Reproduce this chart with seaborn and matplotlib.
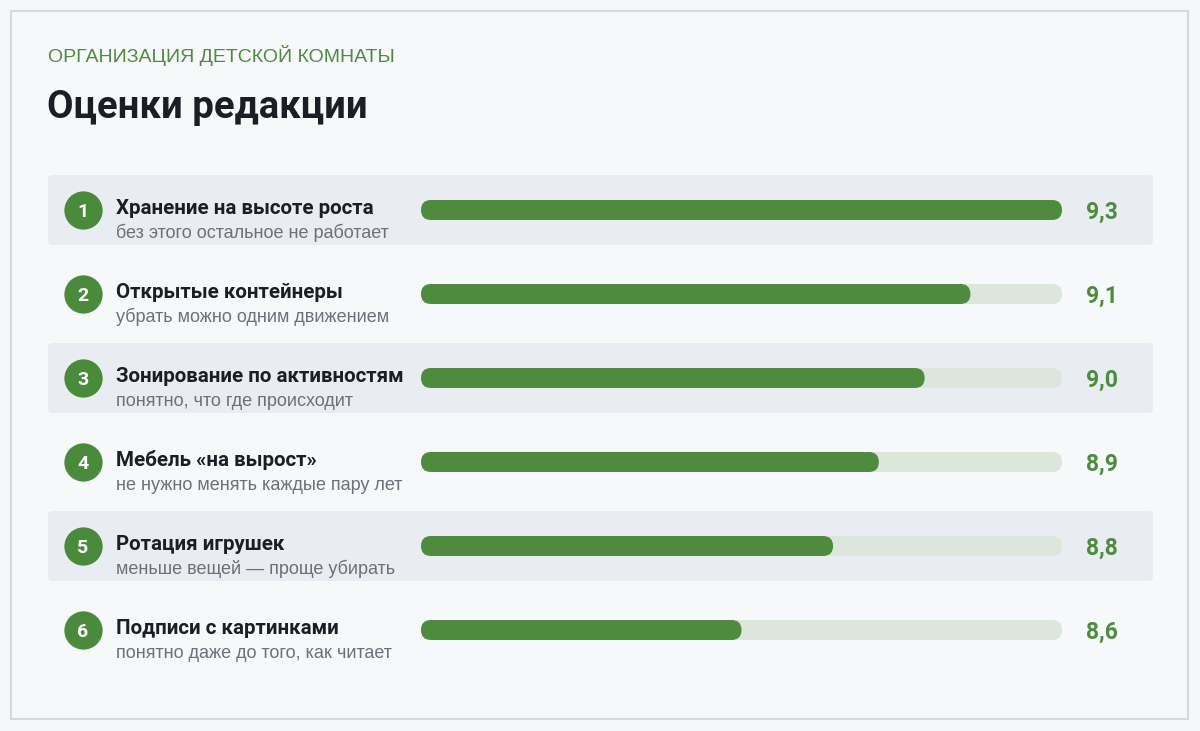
import matplotlib
matplotlib.use("Agg")
import matplotlib.pyplot as plt
import seaborn as sns
import pandas as pd
from matplotlib.patches import FancyBboxPatch, Rectangle
from matplotlib.transforms import blended_transform_factory

# ---- data ----
eyebrow = "ОРГАНИЗАЦИЯ ДЕТСКОЙ КОМНАТЫ"
title = "Оценки редакции"
ranks = ["1", "2", "3", "4", "5", "6"]
names = ["Хранение на высоте роста", "Открытые контейнеры", "Зонирование по активностям",
         "Мебель «на вырост»", "Ротация игрушек", "Подписи с картинками"]
notes = ["без этого остальное не работает", "убрать можно одним движением",
         "понятно, что где происходит", "не нужно менять каждые пару лет",
         "меньше вещей — проще убирать", "понятно даже до того, как читает"]
scores = [9.3, 9.1, 9.0, 8.9, 8.8, 8.6]
score_labels = ["9,3", "9,1", "9,0", "8,9", "8,8", "8,6"]
scale_min, scale_max = 7.9, 9.3

# ---- style ----
GREEN = "#4e8b3e"
TRACK = "#dce6db"
BAND = "#e9edf1"
BG = "#f5f7fa"
DARK = "#1b1e25"
GRAY = "#6b7079"
BOLDF = ["Roboto", "DejaVu Sans"]

sns.set_theme(style="white")
plt.rcParams["font.family"] = ["Liberation Sans", "DejaVu Sans"]

W, H = 1200, 731
fig = plt.figure(figsize=(W / 100, H / 100), dpi=100, facecolor=BG)

# card
fig.patches.append(Rectangle((11 / W, 1 - 719 / H), 1177 / W, 708 / H, transform=fig.transFigure,
                             facecolor="#f6f8fa", edgecolor="#d4d8df", lw=1.5, zorder=-10))

fig.text(48 / W, 1 - 62 / H, eyebrow, color=GREEN, fontsize=14, va="baseline", ha="left")
fig.text(47 / W, 1 - 118 / H, title, color=DARK, fontsize=27.5, fontweight="bold", va="baseline",
         ha="left", family=BOLDF)

# bar axes
ax = fig.add_axes([421 / W, 1 - 672 / H, 641 / W, 504 / H])
ax.set_facecolor("none")
ax.set_zorder(2)

df = pd.DataFrame({"name": names, "score": scores, "track": [scale_max] * len(names)})
sns.barplot(data=df, y="name", x="track", color=TRACK, saturation=1, width=20 / 84, ax=ax,
            orient="h", linewidth=0, zorder=2)
sns.barplot(data=df, y="name", x="score", color=GREEN, saturation=1, width=20 / 84, ax=ax,
            orient="h", linewidth=0, zorder=3)
ax.set_xlim(scale_min, scale_max)
ax.set_ylim(len(names) - 0.5, -0.5)

# round the bars
x_per_px = (scale_max - scale_min) / 641
y_per_px = 1 / 84
r = 10 * x_per_px
aspect = y_per_px / x_per_px
for p in list(ax.patches):
    x0 = max(p.get_x(), scale_min)
    x1 = p.get_x() + p.get_width()
    fp = FancyBboxPatch((x0, p.get_y()), x1 - x0, p.get_height(),
                        boxstyle=f"round,pad=0,rounding_size={r}", mutation_aspect=aspect,
                        facecolor=p.get_facecolor(), edgecolor="none", zorder=p.get_zorder())
    p.remove()
    ax.add_patch(fp)

ax.axis("off")

# decorations in mixed coords: x in figure fraction, y in category units
tr = blended_transform_factory(fig.transFigure, ax.transData)
band_r = 5 / W
band_aspect = (1 / 84) / (1 / W)
for i in range(len(names)):
    if i % 2 == 0:
        band = FancyBboxPatch((48 / W, i - 35 / 84), 1105 / W, 70 / 84,
                              boxstyle=f"round,pad=0,rounding_size={band_r}",
                              mutation_aspect=band_aspect, transform=tr,
                              facecolor=BAND, edgecolor="none", zorder=0, clip_on=False)
        ax.add_patch(band)

ax.scatter([83 / W] * len(ranks), range(len(ranks)), s=760, color="#4a8a3b", transform=tr,
           clip_on=False, zorder=4, linewidths=0)
for i, (rk, nm, nt, lb) in enumerate(zip(ranks, names, notes, score_labels)):
    ax.text(83 / W, i + 7 / 84, rk, transform=tr, color="white", fontsize=14, fontweight="bold",
            ha="center", va="baseline", zorder=5, family=BOLDF)
    ax.text(116 / W, i + 4 / 84, nm, transform=tr, color=DARK, fontsize=14.8, fontweight="bold",
            ha="left", va="baseline", family=BOLDF)
    ax.text(116 / W, i + 28 / 84, nt, transform=tr, color=GRAY, fontsize=13,
            ha="left", va="baseline")
    ax.text(1086 / W, i + 9 / 84, lb, transform=tr, color=GREEN, fontsize=16.5, fontweight="bold",
            ha="left", va="baseline", family=BOLDF)

fig.savefig("out.png", dpi=100, facecolor=BG)
